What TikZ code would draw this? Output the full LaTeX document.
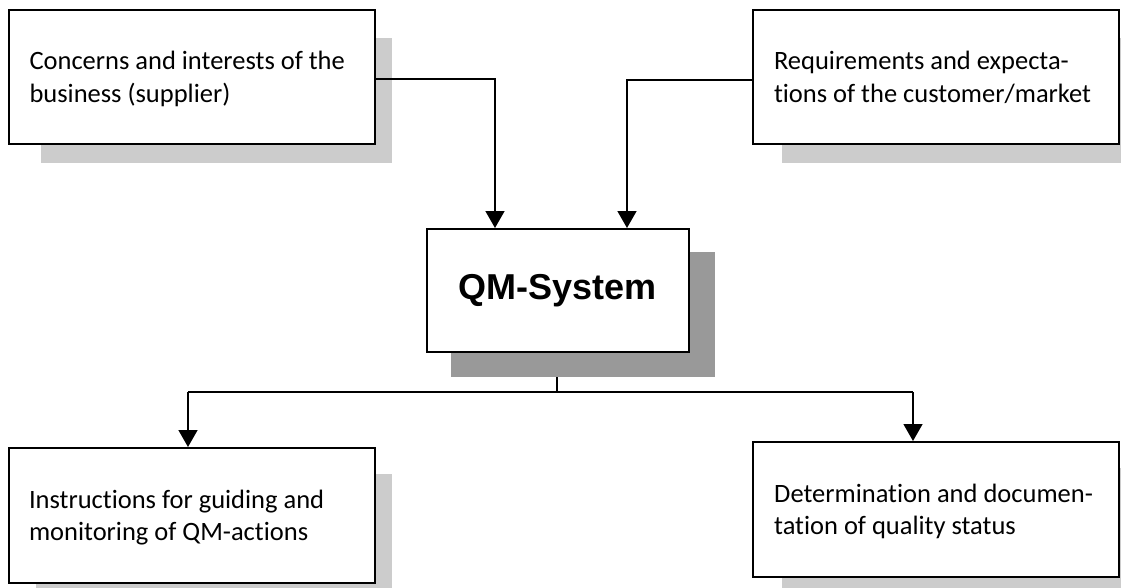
\documentclass[tikz,border=0pt]{standalone}
\usepackage{fontspec}
\setmainfont{Carlito}[Ligatures=NoCommon]
\newfontfamily\arialfont{Liberation Sans}
\usetikzlibrary{arrows.meta}
\definecolor{shadowlight}{HTML}{CCCCCC}
\definecolor{shadowdark}{HTML}{999999}
\begin{document}
\begin{tikzpicture}[x=1pt,y=-1pt,
  box/.style={draw=black,line width=1.6pt,fill=white,inner sep=0pt,anchor=north west},
  shadowlt/.style={fill=shadowlight,draw=none,inner sep=0pt,anchor=north west},
  shadowdk/.style={fill=shadowdark,draw=none,inner sep=0pt,anchor=north west},
  txt/.style={font=\fontsize{26.5}{32.4}\selectfont,align=left,inner sep=0pt,anchor=north west},
  qmtext/.style={font=\arialfont\bfseries\fontsize{36}{43}\selectfont},
  line/.style={line width=1.5pt},
  conn/.style={line width=1.5pt,-{Triangle[width=19pt,length=17pt]}}
]
\useasboundingbox (0,0) rectangle (1121,588);
\clip (0,0) rectangle (1121,588);

% shadows
\node[shadowlt,minimum width=351,minimum height=125] (sa) at (41,38) {};
\node[shadowlt,minimum width=354,minimum height=125] (sb) at (782,38) {};
\node[shadowdk,minimum width=264,minimum height=125] (sqm) at (451,252) {};
\node[shadowlt,minimum width=356,minimum height=126] (sc) at (36,474) {};
\node[shadowlt,minimum width=354,minimum height=132] (sd) at (782,468) {};

% boxes
\node[box,minimum width=366,minimum height=134] (a) at (8,9) {};
\node[box,minimum width=366,minimum height=134] (b) at (752,9) {};
\node[box,minimum width=262,minimum height=123,qmtext] (qm) at (426,228) {QM-System};
\node[box,minimum width=366,minimum height=135] (c) at (8,447) {};
\node[box,minimum width=366,minimum height=135] (d) at (752,441) {};

% texts
\node[txt] (ta) at ([shift={(21.3,37.8)}]a.north west) {\strut Concerns and interests of the\\\strut business (supplier)};
\node[txt] (tb) at ([shift={(21.8,37.8)}]b.north west) {\strut Requirements and expecta-\\\strut tions of the customer/market};
\node[txt] (tc) at ([shift={(20.8,38.3)}]c.north west) {\strut Instructions for guiding and\\\strut monitoring of QM-actions};
\node[txt] (td) at ([shift={(22,38.3)}]d.north west) {\strut Determination and documen-\\\strut tation of quality status};

% connectors
\coordinate (ka) at (495,79);
\coordinate (kb) at (627,80);
\coordinate (j) at (557,392);
\coordinate (jl) at (188,392);
\coordinate (jr) at (913,392);

\draw[conn] (a.east |- ka) -- (ka) -- (ka |- qm.north);
\draw[conn] (b.west |- kb) -- (kb) -- (kb |- qm.north);
\draw[line] (j |- sqm.south) -- (j);
\draw[line] (jl) -- (jr);
\draw[conn] (jl) -- (jl |- c.north);
\draw[conn] (jr) -- (jr |- d.north);
\end{tikzpicture}
\end{document}
